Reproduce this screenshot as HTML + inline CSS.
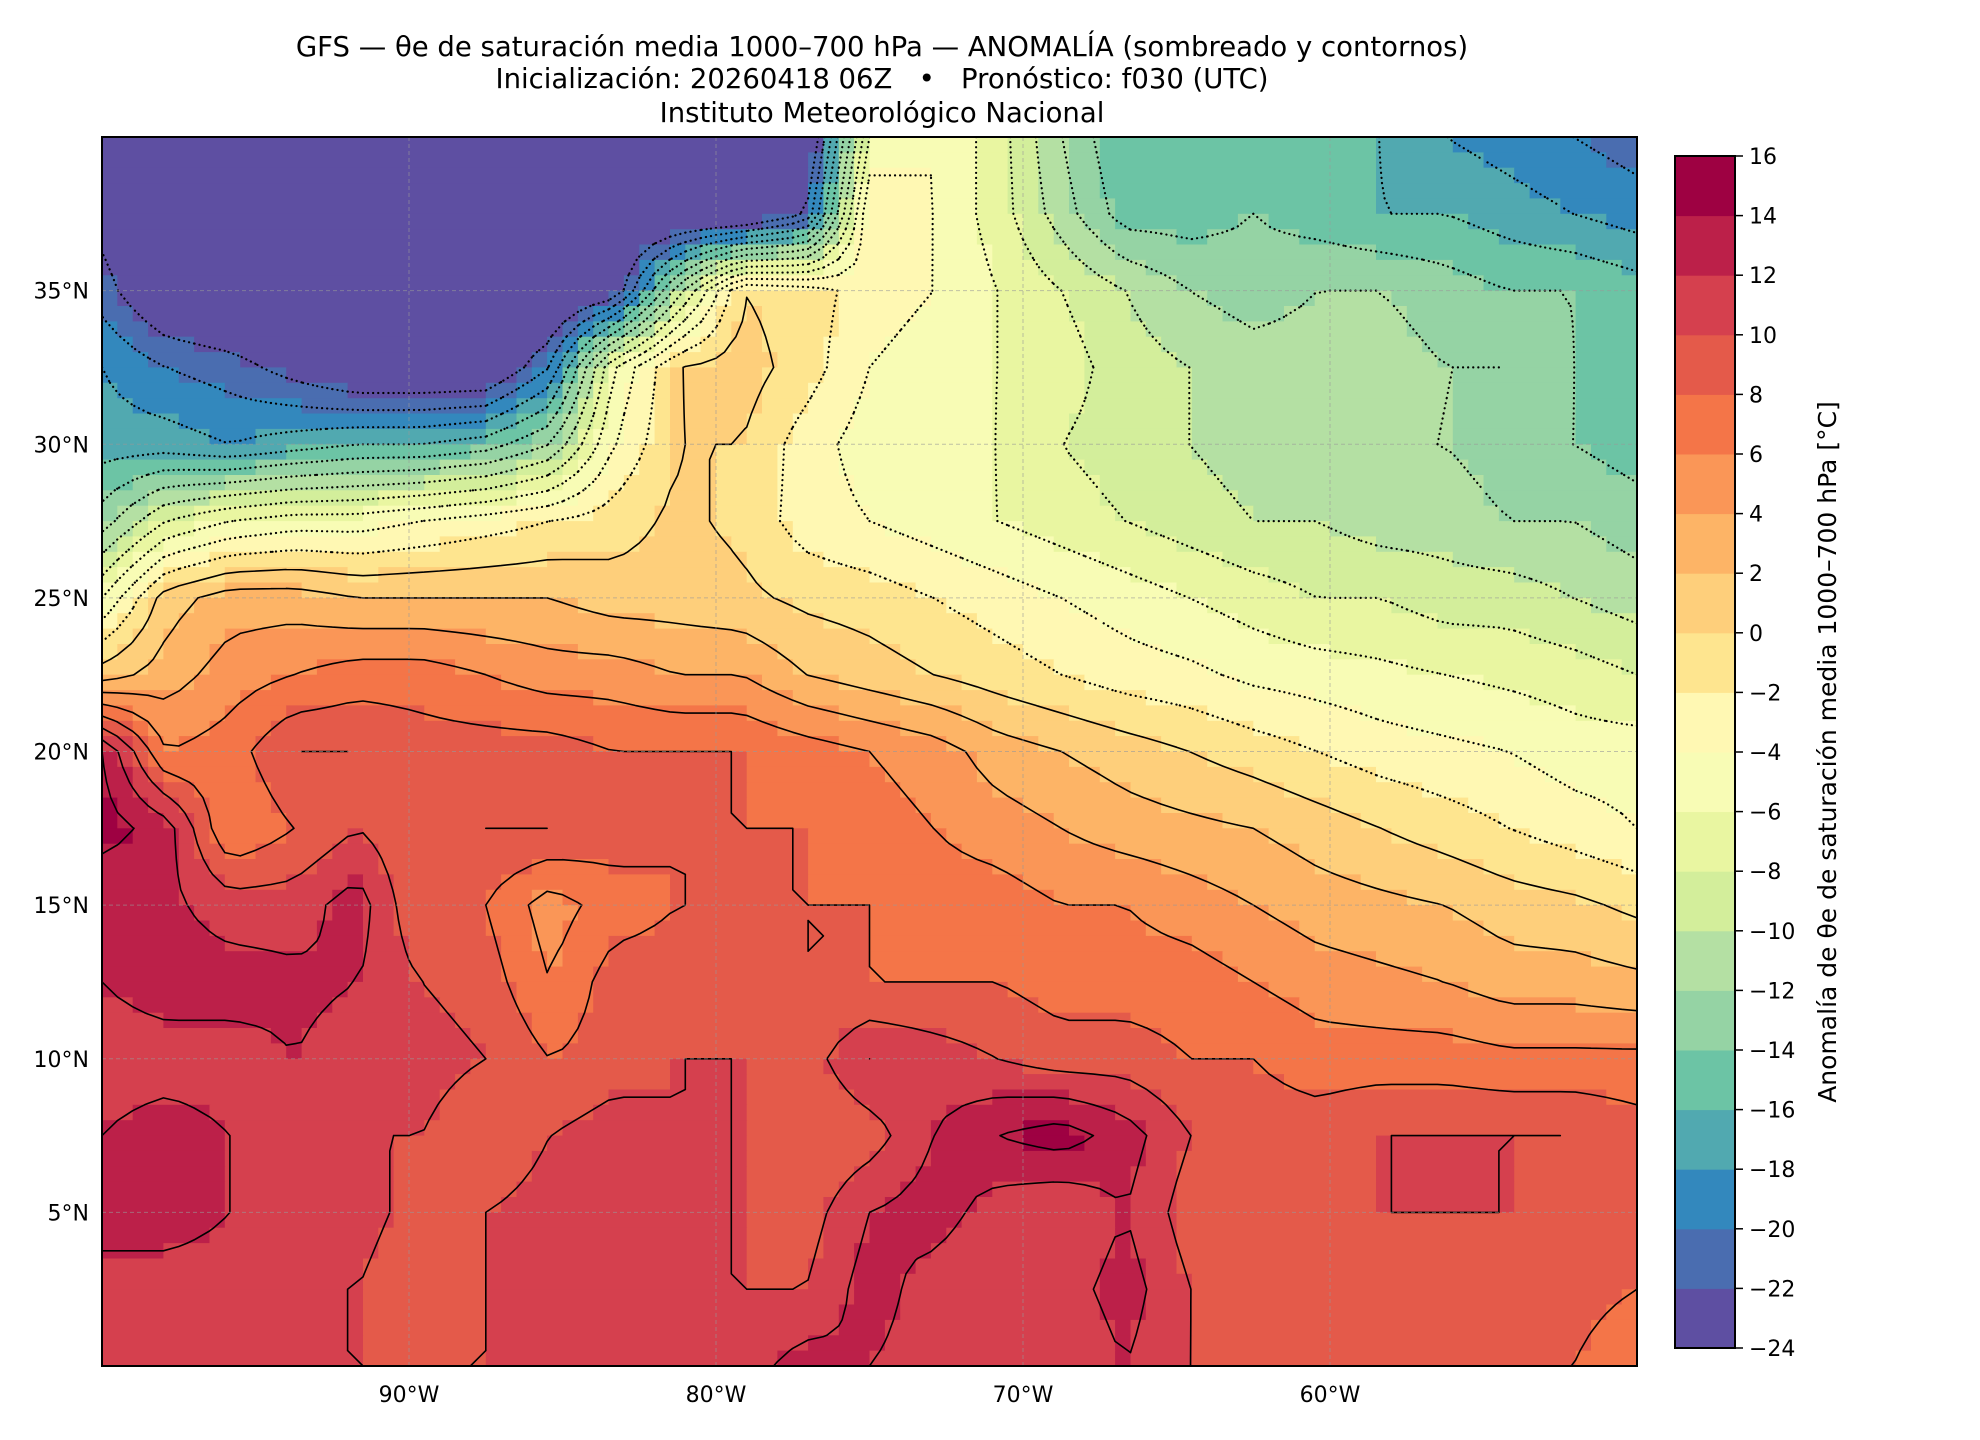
<!DOCTYPE html>
<html><head><meta charset="utf-8"><style>
html,body{margin:0;padding:0;background:#fff;}
svg{display:block;font-family:"DejaVu Sans","Liberation Sans",sans-serif;}
</style></head><body>
<svg id="chart" width="1980" height="1440" viewBox="0 0 1980 1440" xmlns="http://www.w3.org/2000/svg">
<g font-size="27.5" text-anchor="middle" fill="#000">
<text x="882" y="56">GFS — θe de saturación media 1000–700 hPa — ANOMALÍA (sombreado y contornos)</text>
<text x="882" y="88">Inicialización: 20260418 06Z &#160;&#160;•&#160;&#160; Pronóstico: f030 (UTC)</text>
<text x="882" y="122">Instituto Meteorológico Nacional</text>
</g>
<defs><clipPath id="plotclip"><rect x="102" y="137" width="1535" height="1229"/></clipPath></defs>
<g id="field" clip-path="url(#plotclip)"></g>
<g id="contours" clip-path="url(#plotclip)"></g>
<g id="grid"></g>
<rect x="102" y="137" width="1535" height="1229" fill="none" stroke="#000" stroke-width="2"/>
<g id="axes" font-size="22" fill="#000"></g>
<g id="cbar"></g>
<text transform="translate(1836,752) rotate(-90)" text-anchor="middle" font-size="25">Anomalía de θe de saturación media 1000–700 hPa [°C]</text>
</svg>
<script>
// ---- data ----
const lonStart = -100, lonEnd = -50;
const lats = [40,37.5,35,32.5,30,27.5,25,22.5,20,17.5,15,12.5,10,7.5,5,2.5,0];
const levels = [-24,-22,-20,-18,-16,-14,-12,-10,-8,-6,-4,-2,0,2,4,6,8,10,12,14,16];
const bandColors = ["#5e4fa2","#4a6db0","#3388bd","#51a9b0","#6cc4a5","#95d3a4","#b4e0a3","#d3ee9b","#e9f6a1","#f8fcb5","#fff8b3","#fee58f","#fecf7b","#fdb466","#fa9657","#f47548","#e45a4a","#d5404e","#bc2049","#9e0142"];
const lonTicks = [-90,-80,-70,-60];
const lonTickLabels = ["90°W","80°W","70°W","60°W"];
const latTicks = [5,10,15,20,25,30,35];
const latTickLabels = ["5°N","10°N","15°N","20°N","25°N","30°N","35°N"];
const cbTickLabels = ["16","14","12","10","8","6","4","2","0","−2","−4","−6","−8","−10","−12","−14","−16","−18","−20","−22","−24"];
const row40 = [-26,-26,-26,-26,-26,-26,-26,-26,-26,-26,-26,-26,-6,-4,-7,-12,-16,-15,-15,-15,-16,-18,-19,-20,-21];
const row375 = [-23,-26,-26,-26,-26,-26,-26,-26,-26,-26,-26,-22,-2,-4,-7,-11,-15,-15,-14,-15,-16,-16,-17,-18,-19];
const row35 = [-21,-25,-26,-26,-26,-26,-26,-26,-24,-11,0,-1,-3,-4,-6,-8,-10,-12,-13,-12,-12,-13,-14,-14,-15];
const row325 = [-18,-20,-21,-23,-25,-25,-25,-20,-6,0,1,-1,-4,-5,-6,-7,-9,-10,-11,-11,-11,-12,-12,-14,-15];
const row30 = [-17,-17,-18,-17,-16,-16,-15,-12,-4,0,0,-3,-5,-5,-6,-8,-9,-10,-11,-12,-12,-12,-13,-14,-15];
const row275 = [-13,-8,-6,-5,-5,-4,-3,-2,-1,0.5,-0.5,-3,-4,-5,-6,-7,-8,-9,-10,-10,-11,-11,-12,-12,-13];
const row25 = [-6,1,3,3,2,2,2,2,1,1,0.5,-0.5,-1,-2,-3,-4,-5,-6,-7,-8,-8,-9,-9,-10,-11];
const row225 = [1,3,5,6,7,7,6,5,5,4,4,2,1,0,-1,-2,-3,-3.5,-4.5,-5,-5.5,-6,-6.5,-7,-8];
const row20 = [14,6,7,10,10,9,9,9,8,8,8,7,6,5,3,2,1,0,-1,-2,-3,-3.5,-4,-5,-5];
const row175 = [15,13,6,8,10,8,10,10,9,8,8,8,7,6,5,4,3,2.5,2,1,0,-1,-2,-3,-4];
const row15 = [12,12.5,11,11,13,8,8,5,7,8,8,8,8,7,7,6,6,5,4,3,2.5,2,1,0.5,-0.5];
const row125 = [12,13,13,12.5,12,10,9,6,9,9,9,8,8,8,8,7,7,7,6,5,4.5,4,3,3,2.5];
const row10 = [11,11,11,12,11,11,10,8,9,10,10,9,12,11,10,9,9,8,8,7,7,7,6.5,6.5,6.5];
const row75 = [12,13,12,11,10,10,8,10,11,10,10,8,9,12,14,15,13,10,9,9,10,10,10,10,9];
const row5 = [13,13,12,11,11,9,10,11,10,10,10,9,12,13,11,10,12,9,9,9,10,10,10,9,8];
const row25s = [11,11,11,10,10,8,10,11,12,10,10,10,13,11,10,11,13,10,9,9,10,9,10,9,8];
const row0 = [11,11,11,10,10,10,10,10,10,10,11,13,12,11,11,10,12,10,9,8,8,9,9,8,6];
const rows = [row40,row375,row35,row325,row30,row275,row25,row225,row20,row175,row15,row125,row10,row75,row5,row25s,row0];

// ---- scales ----
const X0=102,X1=1637,Y0=137,Y1=1366;
function xS(lon){return X0+(lon-lonStart)/(lonEnd-lonStart)*(X1-X0);}
function yS(lat){return Y0+(40-lat)/40*(Y1-Y0);}
const NS="http://www.w3.org/2000/svg";
function mk(tag,attrs,parent){const e=document.createElementNS(NS,tag);for(const k in attrs)e.setAttribute(k,attrs[k]);parent.appendChild(e);return e;}

function valueAt(lon,lat){
  const nc=rows[0].length;
  const fx=(lon-lonStart)/(lonEnd-lonStart)*(nc-1);
  const fy=(40-lat)/2.5;
  const i0=Math.max(0,Math.min(nc-2,Math.floor(fx))), j0=Math.max(0,Math.min(rows.length-2,Math.floor(fy)));
  const tx=fx-i0, ty=fy-j0;
  const a=rows[j0][i0],b=rows[j0][i0+1],c=rows[j0+1][i0],d=rows[j0+1][i0+1];
  return a*(1-tx)*(1-ty)+b*tx*(1-ty)+c*(1-tx)*ty+d*tx*ty;
}
function bandIndex(v){let k=Math.floor((v-levels[0])/2);return Math.max(0,Math.min(bandColors.length-1,k));}

const res=0.5, NX=Math.round((lonEnd-lonStart)/res), NY=Math.round(40/res);
const field=document.getElementById('field');
for(let j=0;j<NY;j++){
  const lat=40-(j+0.5)*res;
  let runStart=0, runBand=bandIndex(valueAt(lonStart+0.5*res,lat));
  for(let i=1;i<=NX;i++){
    const b = i<NX ? bandIndex(valueAt(lonStart+(i+0.5)*res,lat)) : -1;
    if(b!==runBand){
      const xa=xS(lonStart+runStart*res), xb=xS(lonStart+i*res);
      const r=mk('rect',{x:xa.toFixed(1),y:yS(lat+res/2).toFixed(1),width:(xb-xa+0.6).toFixed(1),height:(yS(lat-res/2)-yS(lat+res/2)+0.6).toFixed(1),fill:bandColors[runBand]},field);
      
      
      runStart=i; runBand=b;
    }
  }
}

const nodes=[];
for(let j=0;j<=NY;j++){const r=[];for(let i=0;i<=NX;i++)r.push(valueAt(lonStart+i*res,40-j*res));nodes.push(r);}
const cg=document.getElementById('contours');
for(const L of levels.slice(1,-1)){
  let d='';
  for(let j=0;j<NY;j++)for(let i=0;i<NX;i++){
    const v=[nodes[j][i],nodes[j][i+1],nodes[j+1][i+1],nodes[j+1][i]];
    const p=[[i,j],[i+1,j],[i+1,j+1],[i,j+1]];
    const pts=[];
    for(let e=0;e<4;e++){
      const a=v[e],b=v[(e+1)%4];
      if((a<L)!==(b<L)){
        const t=(L-a)/(b-a);
        const px=p[e][0]+t*(p[(e+1)%4][0]-p[e][0]), py=p[e][1]+t*(p[(e+1)%4][1]-p[e][1]);
        pts.push([xS(lonStart+px*res),yS(40-py*res)]);
      }
    }
    for(let k=0;k+1<pts.length;k+=2)d+='M'+pts[k][0].toFixed(1)+' '+pts[k][1].toFixed(1)+'L'+pts[k+1][0].toFixed(1)+' '+pts[k+1][1].toFixed(1);
  }
  if(!d)continue;
  const path=mk('path',{d:d,fill:'none',stroke:'#000','stroke-width':L<0?2.2:1.6,'stroke-linecap':'round','stroke-dasharray':L<0?'0.1 5':'none'},cg);
  
  
}

const gg=document.getElementById('grid'), ag=document.getElementById('axes');
lonTicks.forEach((lon,k)=>{
  const l=mk('line',{x1:xS(lon),x2:xS(lon),y1:Y0,y2:Y1,stroke:'#999','stroke-width':1,'stroke-dasharray':'4 3',opacity:0.6},gg);
  
  
  const t=mk('text',{x:xS(lon),y:Y1+36,'text-anchor':'middle'},ag);
  t.textContent=lonTickLabels[k];
  
  
});
latTicks.forEach((lat,k)=>{
  const l=mk('line',{x1:X0,x2:X1,y1:yS(lat),y2:yS(lat),stroke:'#999','stroke-width':1,'stroke-dasharray':'4 3',opacity:0.6},gg);
  
  
  const t=mk('text',{x:X0-13,y:yS(lat)+8,'text-anchor':'end'},ag);
  t.textContent=latTickLabels[k];
  
  
});

const cb=document.getElementById('cbar');
const CX0=1675,CX1=1735,CY0=156,CY1=1348;
const nb=bandColors.length, bh=(CY1-CY0)/nb;
bandColors.forEach((c,k)=>{
  const r=mk('rect',{x:CX0,y:(CY1-(k+1)*bh).toFixed(2),width:CX1-CX0,height:(bh+0.5).toFixed(2),fill:c},cb);
  
  
});
mk('rect',{x:CX0,y:CY0,width:CX1-CX0,height:CY1-CY0,fill:'none',stroke:'#000','stroke-width':2},cb);
cbTickLabels.forEach((s,k)=>{
  const y=CY0+k*bh;
  mk('line',{x1:CX1,x2:CX1+8,y1:y,y2:y,stroke:'#000','stroke-width':1.5},cb);
  const t=mk('text',{x:CX1+14,y:y+8,'font-size':22},cb);
  t.textContent=s;
  
  
});
</script>
</body></html>
